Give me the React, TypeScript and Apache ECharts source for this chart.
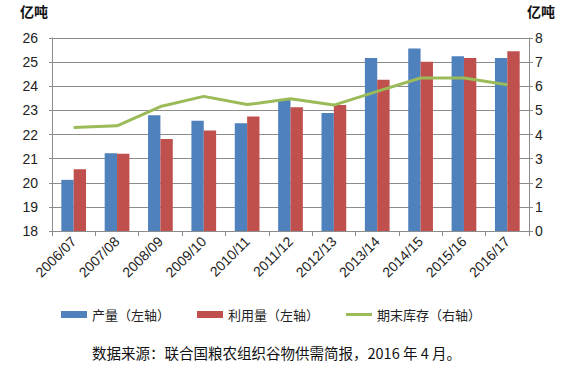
import React, { useEffect, useRef } from "react";
import * as echarts from "echarts";

const categories = ["2006/07", "2007/08", "2008/09", "2009/10", "2010/11", "2011/12", "2012/13", "2013/14", "2014/15", "2015/16", "2016/17"];
const production = [20.12, 21.22, 22.8, 22.57, 22.47, 23.43, 22.89, 25.17, 25.56, 25.24, 25.17];
const utilization = [20.56, 21.2, 21.81, 22.17, 22.75, 23.13, 23.22, 24.27, 25.02, 25.17, 25.45];
const stocks = [4.29, 4.36, 5.16, 5.58, 5.24, 5.48, 5.22, 5.79, 6.34, 6.34, 6.06];
const leftTicks = { min: 18, max: 26, interval: 1 };
const rightTicks = { min: 0, max: 8, interval: 1 };
const unitLabel = "亿吨";
const sourceNote = "数据来源：联合国粮农组织谷物供需简报，2016 年 4 月。";

const FONT = "'Liberation Sans', Arial, 'Noto Sans CJK SC', sans-serif";
const CJK = "'Noto Sans CJK SC', sans-serif";

export default function App() {
  const ref = useRef<HTMLDivElement>(null);
  useEffect(() => {
    const chart = echarts.init(ref.current!, null, { renderer: "svg" });
    const gridColor = "#8c8c8c";
    chart.setOption({
      animation: false,
      backgroundColor: "#ffffff",
      grid: { left: 52, right: 40, top: 38, bottom: 136 },
      legend: {
        left: 56,
        top: 303,
        itemWidth: 26,
        itemHeight: 7,
        itemGap: 27,
        textStyle: { fontSize: 13, fontFamily: CJK, color: "#222" },
        data: [
          { name: "产量（左轴）", icon: "rect" },
          { name: "利用量（左轴）", icon: "rect" },
          { name: "期末库存（右轴）", icon: "path://M0,0 L26,0 L26,3 L0,3 Z", itemStyle: { color: "#9BBB59" } },
        ],
      },
      xAxis: {
        type: "category",
        data: categories,
        axisLine: { lineStyle: { color: gridColor } },
        axisTick: { show: true, length: 5, lineStyle: { color: gridColor } },
        axisLabel: { rotate: 45, fontSize: 14, fontFamily: FONT, color: "#222", margin: 8 },
      },
      yAxis: [
        {
          type: "value",
          min: leftTicks.min,
          max: leftTicks.max,
          interval: leftTicks.interval,
          axisLine: { show: true, lineStyle: { color: gridColor } },
          axisTick: { show: true, length: 3, lineStyle: { color: gridColor } },
          splitLine: { lineStyle: { color: gridColor } },
          axisLabel: { fontSize: 14, fontFamily: FONT, color: "#222", margin: 14 },
        },
        {
          type: "value",
          min: rightTicks.min,
          max: rightTicks.max,
          interval: rightTicks.interval,
          position: "right",
          axisLine: { show: true, lineStyle: { color: gridColor } },
          axisTick: { show: true, length: 4, inside: false, lineStyle: { color: gridColor } },
          splitLine: { show: false },
          axisLabel: { fontSize: 14, fontFamily: FONT, color: "#222", margin: 6 },
        },
      ],
      series: [
        {
          name: "产量（左轴）",
          type: "bar",
          data: production,
          itemStyle: { color: "#4F81BD" },
          barGap: "0%",
          barCategoryGap: "43%",
        },
        {
          name: "利用量（左轴）",
          type: "bar",
          data: utilization,
          itemStyle: { color: "#C0504D" },
          barGap: "0%",
          barCategoryGap: "43%",
        },
        {
          name: "期末库存（右轴）",
          type: "line",
          yAxisIndex: 1,
          data: stocks,
          symbol: "none",
          lineStyle: { color: "#9BBB59", width: 3 },
          itemStyle: { color: "#9BBB59" },
        },
      ],
      graphic: [
        { type: "text", left: 20, top: 4, style: { text: unitLabel, font: `bold 14px ${CJK}`, fill: "#111" } },
        { type: "text", left: 527, top: 4, style: { text: unitLabel, font: `bold 14px ${CJK}`, fill: "#111" } },
        { type: "text", left: 92, top: 345, style: { text: sourceNote, font: `14.5px ${CJK}`, fill: "#111" } },
      ],
    });
    return () => chart.dispose();
  }, []);
  return <div ref={ref} style={{ position: "absolute", left: 0, top: 0, width: 569, height: 367 }} />;
}
